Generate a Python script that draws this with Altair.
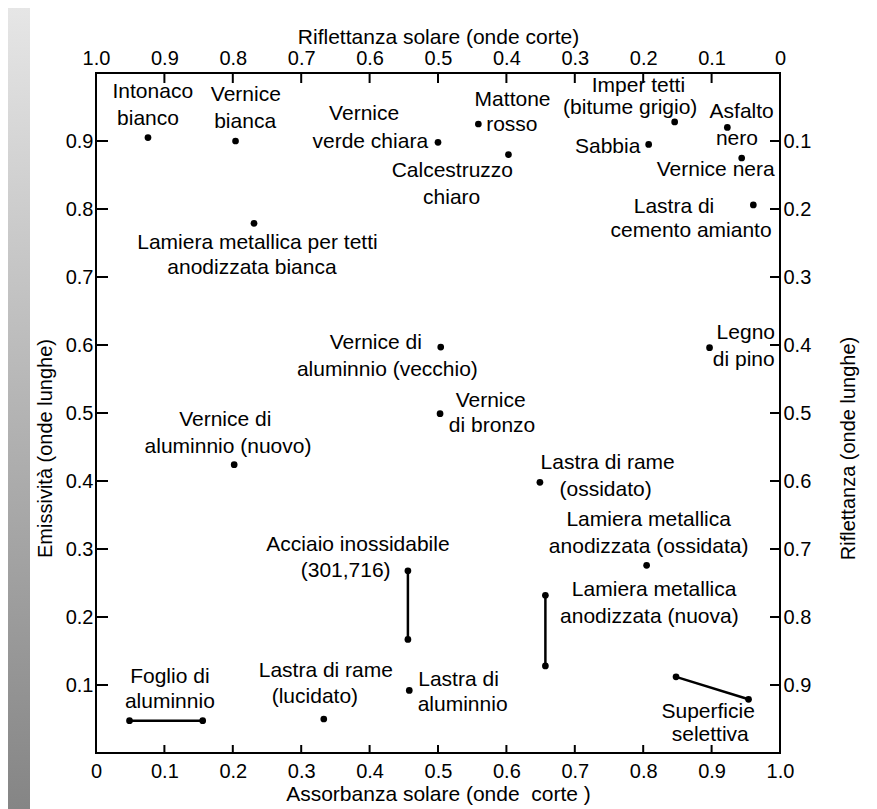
import altair as alt
import pandas as pd

# ---------------- data ----------------
# single materials (solar absorptance, long-wave emissivity)
pt_name = ["Intonaco bianco", "Vernice bianca", "Vernice verde chiara",
           "Lamiera metallica per tetti anodizzata bianca", "Mattone rosso",
           "Calcestruzzo chiaro", "Sabbia", "Imper tetti (bitume grigio)",
           "Asfalto nero", "Vernice nera", "Lastra di cemento amianto",
           "Vernice di aluminnio (vecchio)", "Vernice di bronzo",
           "Vernice di aluminnio (nuovo)", "Legno di pino",
           "Lastra di rame (ossidato)", "Lamiera metallica anodizzata (ossidata)",
           "Lastra di aluminnio", "Lastra di rame (lucidato)"]
pt_x = [0.076, 0.204, 0.500, 0.231, 0.559, 0.603, 0.808, 0.846, 0.923, 0.944,
        0.961, 0.504, 0.503, 0.202, 0.897, 0.649, 0.805, 0.458, 0.333]
pt_y = [0.905, 0.900, 0.898, 0.779, 0.925, 0.880, 0.895, 0.928, 0.920, 0.875,
        0.806, 0.597, 0.499, 0.424, 0.596, 0.398, 0.276, 0.092, 0.050]

# materials given as a range (segment between two end points)
seg_name = ["Foglio di aluminnio", "Acciaio inossidabile (301,716)",
            "Lamiera metallica anodizzata (nuova)", "Superficie selettiva"]
seg_x1 = [0.049, 0.456, 0.657, 0.848]
seg_y1 = [0.0475, 0.268, 0.232, 0.112]
seg_x2 = [0.156, 0.456, 0.657, 0.954]
seg_y2 = [0.0475, 0.167, 0.128, 0.079]

# label lines (text, anchor in data units)
lab_text = ["Intonaco", "bianco", "Vernice", "bianca", "Vernice", "verde chiara",
            "Calcestruzzo", "chiaro", "Mattone", "rosso", "Imper tetti",
            "(bitume grigio)", "Asfalto", "nero", "Sabbia", "Vernice nera",
            "Lastra di", "cemento amianto", "Lamiera metallica per tetti",
            "anodizzata bianca", "Vernice di", "aluminnio (vecchio)", "Vernice",
            "di bronzo", "Vernice di", "aluminnio (nuovo)", "Legno", "di pino",
            "Lastra di rame", "(ossidato)", "Lamiera metallica",
            "anodizzata (ossidata)", "Lamiera metallica", "anodizzata (nuova)",
            "Superficie", "selettiva", "Lastra di", "aluminnio",
            "Acciaio inossidabile", "(301,716)", "Foglio di", "aluminnio",
            "Lastra di rame", "(lucidato)"]
lab_x = [0.083, 0.076, 0.219, 0.218, 0.392, 0.401, 0.521, 0.520, 0.609, 0.608,
         0.793, 0.781, 0.944, 0.937, 0.748, 0.906, 0.845, 0.870, 0.236, 0.228,
         0.409, 0.426, 0.577, 0.579, 0.189, 0.193, 0.950, 0.947, 0.748, 0.745,
         0.808, 0.808, 0.816, 0.809, 0.895, 0.898, 0.530, 0.536, 0.383, 0.365,
         0.108, 0.108, 0.336, 0.320]
lab_y = [0.972, 0.932, 0.968, 0.928, 0.940, 0.899, 0.856, 0.816, 0.961, 0.924,
         0.981, 0.948, 0.943, 0.903, 0.891, 0.857, 0.803, 0.767, 0.750, 0.713,
         0.603, 0.563, 0.518, 0.481, 0.490, 0.450, 0.618, 0.578, 0.426, 0.387,
         0.343, 0.303, 0.239, 0.200, 0.060, 0.027, 0.107, 0.071, 0.306, 0.267,
         0.112, 0.075, 0.121, 0.083]

tick_vals = [0.0, 0.1, 0.2, 0.3, 0.4, 0.5, 0.6, 0.7, 0.8, 0.9, 1.0]
inner_vals = [0.1, 0.2, 0.3, 0.4, 0.5, 0.6, 0.7, 0.8, 0.9]

# ---------------- tables ----------------
pts = pd.DataFrame({"name": pt_name + seg_name + seg_name,
                    "x": pt_x + seg_x1 + seg_x2,
                    "y": pt_y + seg_y1 + seg_y2})
segs = pd.DataFrame({"name": seg_name, "x1": seg_x1, "y1": seg_y1,
                     "x2": seg_x2, "y2": seg_y2})
labs = pd.DataFrame({"t": lab_text, "x": lab_x, "y": lab_y})
ticks = pd.DataFrame({"v": inner_vals})

W, H = 684, 680
FONT = "Liberation Sans"
xs = alt.Scale(domain=[0, 1], nice=False, zero=False)
ys = alt.Scale(domain=[0, 1], nice=False, zero=False)

common = dict(ticks=False, domain=False, grid=False, labelFont=FONT,
              labelFontSize=20, labelColor="black", titleFont=FONT,
              titleFontWeight="normal", titleColor="black", labelFlush=False,
              labelOverlap=False)

bottom_axis = alt.Axis(orient="bottom", values=tick_vals,
                       labelExpr="datum.value == 0 ? '0' : format(datum.value, '.1f')",
                       labelPadding=8, title="Assorbanza solare (onde\u00a0 corte )",
                       titleFontSize=21, titleY=41, titleBaseline="middle", **common)
top_axis = alt.Axis(orient="top", values=tick_vals,
                    labelExpr="datum.value == 1 ? '0' : format(1 - datum.value, '.1f')",
                    labelPadding=5, title="Riflettanza solare (onde corte)",
                    titleFontSize=21, titleY=-36, titleBaseline="middle", **common)
left_axis = alt.Axis(orient="left", values=inner_vals, format=".1f", labelPadding=3,
                     title="Emissività (onde lunghe)", titleFontSize=20,
                     titleAngle=270, titleX=-51, titleY=375, titleAlign="center",
                     titleBaseline="middle", **common)
right_axis = alt.Axis(orient="right", values=inner_vals,
                      labelExpr="format(1 - datum.value, '.1f')", labelPadding=3,
                      title="Riflettanza (onde lunghe)", titleFontSize=20,
                      titleAngle=270, titleX=68, titleY=375, titleAlign="center",
                      titleBaseline="middle", **common)

# scanned-page grey strip on the left edge (decoration)
band = alt.Chart(pd.DataFrame({"d": [0]})).mark_rect(
    color=alt.Gradient(gradient="linear",
                       stops=[alt.GradientStop(color="#e6e6e6", offset=0),
                              alt.GradientStop(color="#b4b4b4", offset=0.5),
                              alt.GradientStop(color="#858585", offset=1)],
                       x1=0, x2=0, y1=0, y2=1)
).encode(x=alt.value(-88), x2=alt.value(-66), y=alt.value(-65), y2=alt.value(H + 56))

seg_layer = alt.Chart(segs).mark_rule(color="black", strokeWidth=2.5).encode(
    x=alt.X("x1:Q", scale=xs, axis=bottom_axis),
    y=alt.Y("y1:Q", scale=ys, axis=left_axis),
    x2="x2:Q", y2="y2:Q")

pt_layer = alt.Chart(pts).mark_circle(color="black", size=45, opacity=1).encode(
    x=alt.X("x:Q", scale=xs, axis=None),
    y=alt.Y("y:Q", scale=ys, axis=None))

txt_layer = alt.Chart(labs).mark_text(font=FONT, fontSize=21, color="black",
                                      align="center", baseline="middle").encode(
    x=alt.X("x:Q", scale=xs, axis=top_axis),
    y=alt.Y("y:Q", scale=ys, axis=right_axis),
    text="t:N")

tk = alt.Chart(ticks).mark_rule(color="black", strokeWidth=2)
left_ticks = tk.encode(y=alt.Y("v:Q", scale=ys, axis=None), x=alt.value(0), x2=alt.value(12))
right_ticks = tk.encode(y=alt.Y("v:Q", scale=ys, axis=None), x=alt.value(W - 10), x2=alt.value(W))
bottom_ticks = tk.encode(x=alt.X("v:Q", scale=xs, axis=None), y=alt.value(H - 8), y2=alt.value(H))
top_ticks = tk.encode(x=alt.X("v:Q", scale=xs, axis=None), y=alt.value(0), y2=alt.value(10))

chart = alt.layer(band, seg_layer, pt_layer, txt_layer,
                  left_ticks, right_ticks, bottom_ticks, top_ticks).resolve_axis(
    x="independent", y="independent"
).properties(
    width=W, height=H,
    padding={"left": 88, "top": 65, "right": 89, "bottom": 56},
    autosize=alt.AutoSizeParams(type="none"),
    background="white"
).configure_view(stroke="black", strokeWidth=2)

chart.save("out.html", embed_options={"renderer": "svg", "actions": False})
